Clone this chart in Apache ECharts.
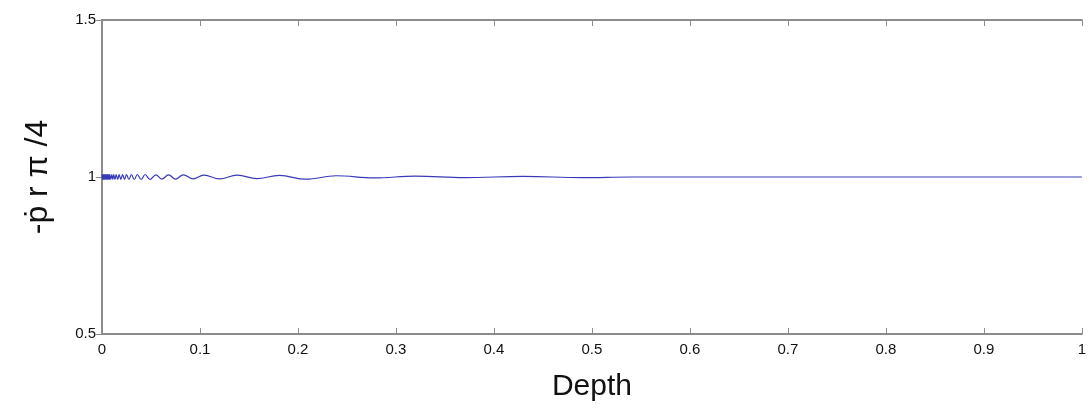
<!DOCTYPE html>
<html>
<head>
<meta charset="utf-8">
<script src="https://cdn.jsdelivr.net/npm/echarts@6/dist/echarts.min.js"></script>
<style>
  html, body { margin: 0; padding: 0; background: #fff; }
  #chart { width: 1089px; height: 411px; }
</style>
</head>
<body>
<div id="chart"></div>
<script>
// Данные (глубина -> значение)
const depth = [
  0, 0.0004, 0.0008, 0.0012, 0.0016, 0.002, 0.0024, 0.0028, 0.0032, 0.0036,
  0.004, 0.0044, 0.0048, 0.0052, 0.0056, 0.006, 0.0064, 0.0068, 0.0072, 0.0076, 0.008,
  0.009, 0.01, 0.011, 0.012, 0.0132, 0.0145, 0.016, 0.0175, 0.0192, 0.021,
  0.023, 0.025, 0.0275, 0.03, 0.033, 0.036, 0.04, 0.044, 0.049, 0.055,
  0.061, 0.068, 0.075, 0.083, 0.093, 0.104, 0.12, 0.138, 0.158, 0.181,
  0.208, 0.239, 0.278, 0.32, 0.37, 0.43, 0.49, 0.54, 1
]
const pressure = [
  1.008, 0.992, 1.008, 0.992, 1.008, 0.992, 1.008, 0.992, 1.008, 0.992,
  1.008, 0.992, 1.008, 0.992, 1.008, 0.992, 1.008, 0.992, 1.008, 0.992, 1.008,
  0.992, 1.008, 0.992, 1.008, 0.992, 1.008, 0.992, 1.008, 0.992, 1.008,
  0.992, 1.008, 0.992, 1.008, 0.992, 1.008, 0.992, 1.008, 0.992, 1.007,
  0.993, 1.007, 0.993, 1.007, 0.994, 1.006, 0.994, 1.006, 0.995, 1.005,
  0.993, 1.004, 0.997, 1.003, 0.998, 1.002, 0.998, 1.0, 1.0
]
const xTicks = [0, 0.1, 0.2, 0.3, 0.4, 0.5, 0.6, 0.7, 0.8, 0.9, 1]
const yTicks = [0.5, 1, 1.5]

const axisColor = '#8c8c8c'
const textColor = '#111'

const chart = echarts.init(document.getElementById('chart'))

const baseX = {
  type: 'value',
  min: 0,
  max: 1,
  interval: 0.1,
  axisLine: { show: true, lineStyle: { color: axisColor, width: 2 } },
  axisTick: { show: true, inside: true, length: 6, lineStyle: { color: axisColor, width: 1 } },
  splitLine: { show: false },
}
const baseY = {
  type: 'value',
  min: 0.5,
  max: 1.5,
  interval: 0.5,
  axisLine: { show: true, lineStyle: { color: axisColor, width: 2 } },
  axisTick: { show: true, inside: true, length: 6, lineStyle: { color: axisColor, width: 1 } },
  splitLine: { show: false },
}

const options = {
  animation: false,
  grid: { left: 102, right: 5, top: 20, bottom: 77, containLabel: false },
  xAxis: [
    {
      ...baseX,
      position: 'bottom',
      name: 'Depth',
      nameLocation: 'middle',
      nameGap: 38,
      nameTextStyle: { fontFamily: 'Liberation Sans', fontSize: 30, color: textColor },
      axisLabel: {
        fontFamily: 'Liberation Sans',
        fontSize: 15,
        color: textColor,
        margin: 8,
        formatter: (v) => (xTicks.includes(+v.toFixed(1)) ? String(+v.toFixed(1)) : ''),
      },
    },
    { ...baseX, position: 'top', axisLabel: { show: false } },
  ],
  yAxis: [
    {
      ...baseY,
      position: 'left',
      name: '-ṗ r π /4',
      nameLocation: 'middle',
      nameGap: 48,
      nameRotate: 90,
      nameTextStyle: { fontFamily: 'Liberation Sans', fontSize: 32, color: textColor },
      axisLabel: {
        fontFamily: 'Liberation Sans',
        fontSize: 15,
        color: textColor,
        margin: 6,
        formatter: (v) => (yTicks.includes(+v.toFixed(1)) ? String(+v.toFixed(1)) : ''),
      },
    },
    { ...baseY, position: 'right', axisLabel: { show: false } },
  ],
  series: [
    {
      type: 'line',
      data: depth.map((d, i) => [d, pressure[i]]),
      symbol: 'none',
      smooth: 0.4,
      lineStyle: { color: '#3a3ab8', width: 1.2 },
    },
  ],
}

chart.setOption(options)
</script>
</body>
</html>
